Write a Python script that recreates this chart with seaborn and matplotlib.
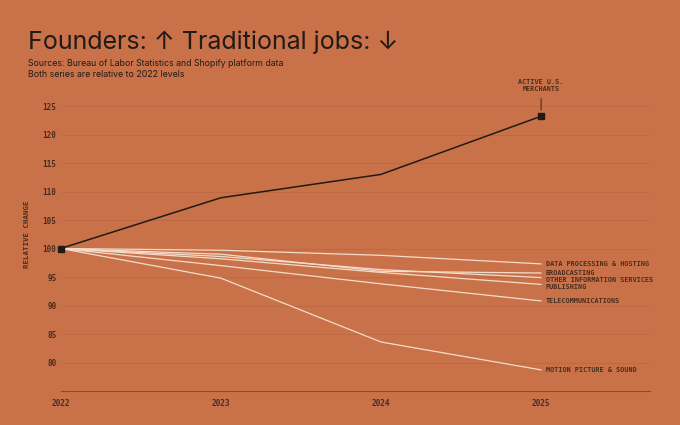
import matplotlib
matplotlib.use("Agg")
import matplotlib.pyplot as plt
import seaborn as sns
import pandas as pd

years = [2022, 2023, 2024, 2025]
merchants = [100, 108.9, 113.0, 123.2]
sectors = ["DATA PROCESSING & HOSTING", "BROADCASTING", "OTHER INFORMATION SERVICES",
           "PUBLISHING", "TELECOMMUNICATIONS", "MOTION PICTURE & SOUND"]
data_processing = [100, 99.7, 98.8, 97.3]
broadcasting = [100, 99.0, 96.0, 95.7]
other_info = [100, 98.6, 96.3, 94.9]
publishing = [100, 98.2, 95.8, 93.7]
telecom = [100, 97.0, 93.8, 90.8]
motion = [100, 94.8, 83.6, 78.7]
y_ticks = [80, 85, 90, 95, 100, 105, 110, 115, 120, 125]

series = [data_processing, broadcasting, other_info, publishing, telecom, motion]
rows = []
for name, vals in zip(sectors, series):
    for yr, v in zip(years, vals):
        rows.append({"year": yr, "value": v, "series": name})
trad = pd.DataFrame(rows)
merch = pd.DataFrame({"year": years, "value": merchants})

BG = "#c97249"
DARK = "#211a16"
TXT = "#4a2c1e"
CREAM = "#f4dccb"

sns.set_theme(style="white", rc={"axes.facecolor": BG, "figure.facecolor": BG})
plt.rcParams['font.family'] = ['Inter', 'DejaVu Sans']

fig = plt.figure(figsize=(6.8, 4.25), dpi=100)
ax = fig.add_axes([60.7 / 680, 34 / 425, (650 - 60.7) / 680, (391 - 77.5) / 425])
ax.set_facecolor(BG)

sns.lineplot(data=trad, x="year", y="value", hue="series",
             palette=[CREAM] * len(sectors), linewidth=0.9, legend=False, ax=ax)
sns.lineplot(data=merch, x="year", y="value", color=DARK, linewidth=1.1, ax=ax)
ax.plot([years[0], years[-1]], [merchants[0], merchants[-1]], ls="none",
        marker="s", ms=5, color=DARK, zorder=5, clip_on=False)

ax.set_xlim(2022, 2025.68)
ax.set_ylim(75, 130)
ax.set_yticks(y_ticks)
ax.set_xticks(years)
ax.set_xticklabels([str(y) for y in years])
ax.grid(axis="y", color="#bb6842", linewidth=0.6)
ax.grid(axis="x", visible=False)
for s in ["top", "right", "left"]:
    ax.spines[s].set_visible(False)
ax.spines["bottom"].set_color("#8a4a30")
ax.spines["bottom"].set_linewidth(0.8)
mono = {"family": "DejaVu Sans Mono", "weight": "bold"}
ax.tick_params(axis="x", direction="out", length=3, width=0.8, color="#6a3a26",
               pad=3, labelsize=5.6, labelcolor=TXT)
ax.tick_params(axis="y", length=0, pad=3, labelsize=5.5, labelcolor=TXT)
for lab in ax.get_xticklabels() + ax.get_yticklabels():
    lab.set_fontfamily("DejaVu Sans Mono")
    lab.set_fontweight("bold")
ax.set_xlabel("")
ax.set_ylabel("RELATIVE CHANGE", fontsize=5.3, color=TXT, labelpad=9, **mono)

# dodge end labels so they don't overlap
ends = [vals[-1] for vals in series]
order = sorted(range(len(ends)), key=lambda i: -ends[i])
label_y = {}
prev = None
for i in order:
    y = ends[i]
    if prev is not None and prev - y < 1.25:
        y = prev - 1.25
    label_y[i] = y
    prev = y
for i, name in enumerate(sectors):
    ax.text(years[-1] + 0.03, label_y[i], name, fontsize=4.9, color=TXT,
            va="center", ha="left", **mono)

ax.annotate("", xy=(years[-1], merchants[-1] + 0.6), xytext=(years[-1], merchants[-1] + 3.6),
            arrowprops=dict(arrowstyle="-", color="#3a2418", lw=0.7))
ax.text(years[-1], merchants[-1] + 4.3, "ACTIVE U.S.\nMERCHANTS", fontsize=4.9,
        color=TXT, ha="center", va="bottom", linespacing=1.1, **mono)

fig.text(28 / 680, 1 - 49 / 425, "Founders: \u2191 Traditional jobs: \u2193", fontsize=18,
         color=DARK, ha="left", va="baseline", family=['Inter', 'DejaVu Sans'])
fig.text(28 / 680, 1 - 66 / 425, "Sources: Bureau of Labor Statistics and Shopify platform data",
         fontsize=6.3, color=DARK, ha="left", va="baseline")
fig.text(28 / 680, 1 - 77 / 425, "Both series are relative to 2022 levels",
         fontsize=6.3, color=DARK, ha="left", va="baseline")

fig.savefig("out.png", dpi=100, facecolor=BG)
